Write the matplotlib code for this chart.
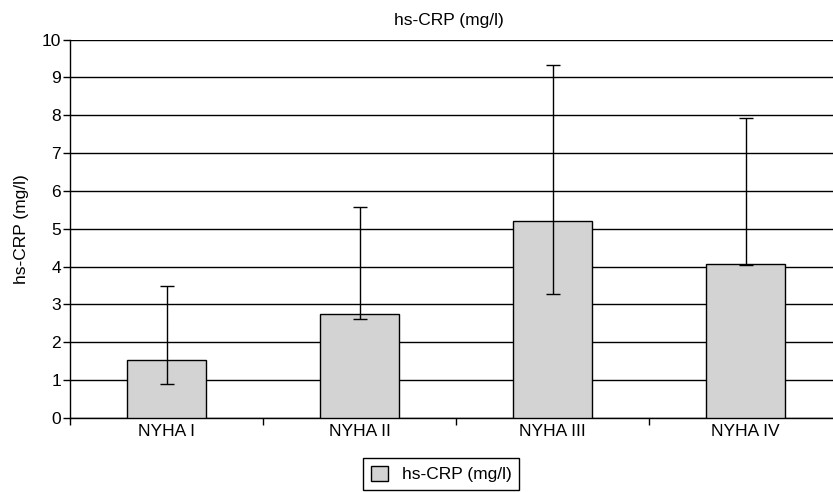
import numpy as np
import matplotlib.pyplot as plt

plt.rcParams['font.family'] = ['Liberation Sans', 'DejaVu Sans']

# data
groups = ["NYHA I", "NYHA II", "NYHA III", "NYHA IV"]
crp_mean = [1.52, 2.75, 5.2, 4.08]
crp_low = [0.89, 2.61, 3.28, 4.04]
crp_high = [3.49, 5.58, 9.32, 7.92]

x = np.arange(len(groups))
mean = np.array(crp_mean)
yerr = [mean - np.array(crp_low), np.array(crp_high) - mean]

fig = plt.figure(figsize=(8.33, 4.92), dpi=100)
ax = fig.add_axes([70 / 833, 1 - 418 / 492, 772 / 833, (418 - 39.5) / 492])

ax.bar(x, mean, width=0.41, color='#d3d3d3', edgecolor='black', linewidth=1,
       label='hs-CRP (mg/l)', zorder=3)
ax.errorbar(x, mean, yerr=yerr, fmt='none', ecolor='black', elinewidth=1,
            capsize=5, capthick=1, zorder=4)

ax.set_xlim(-0.5, len(groups) - 0.5)
ax.set_ylim(0, 10)
ax.set_yticks(range(0, 11))
ax.yaxis.grid(True, color='black', linewidth=1, zorder=0)
ax.set_axisbelow(True)

# category labels at the centres, tick marks between the categories
ax.set_xticks(x)
ax.set_xticklabels(groups)
ax.tick_params(axis='x', length=0, pad=4)
ax.set_xticks(np.arange(-0.5, len(groups)), minor=True)
ax.tick_params(axis='x', which='minor', length=5, width=1, direction='out')
ax.tick_params(axis='y', length=5, width=1, direction='out', pad=1.5)
ax.tick_params(labelsize=12.5)

for s in ['top', 'right']:
    ax.spines[s].set_visible(False)
ax.spines['left'].set_linewidth(1)
ax.spines['bottom'].set_linewidth(1)

ax.set_ylabel('hs-CRP (mg/l)', fontsize=12.5, labelpad=9)
fig.text(449 / 833, 1 - 20 / 492, 'hs-CRP (mg/l)', ha='center', va='center', fontsize=12.5)

leg = fig.legend(loc='center', bbox_to_anchor=(441 / 833, 1 - 474 / 492), fontsize=12.5,
                 fancybox=False, edgecolor='black', framealpha=1,
                 handlelength=1, handleheight=1, borderpad=0.45)
leg.get_frame().set_linewidth(1)

fig.savefig('out.png', dpi=100)
